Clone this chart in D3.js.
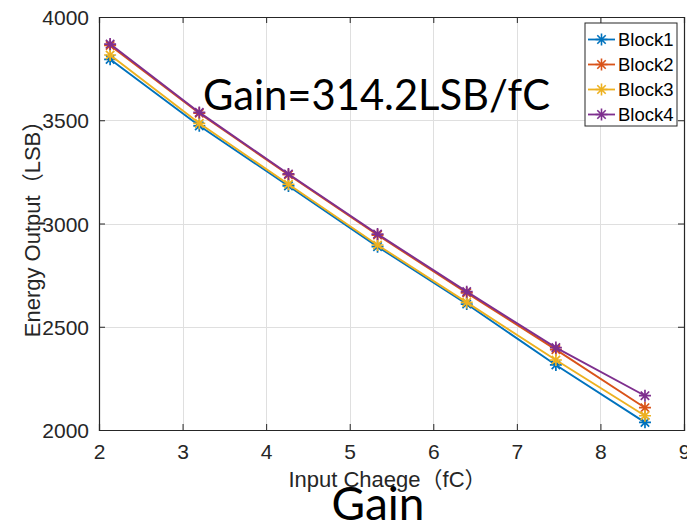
<!DOCTYPE html>
<html>
<head>
<meta charset="utf-8">
<script src="https://cdn.jsdelivr.net/npm/d3@7"></script>
<style>
  html, body { margin: 0; padding: 0; background: #fff; }
  svg { display: block; }
  .axis text { font-family: "Liberation Sans", Arial, sans-serif; font-size: 21px; fill: #262626; }
</style>
</head>
<body>
<svg id="chart" width="687" height="524"></svg>
<script>
// Input charge (fC) for each measurement step
const charge = [2.133, 3.2, 4.267, 5.333, 6.4, 7.467, 8.533];

// Energy output (LSB) per block
const block1 = [3795, 3473, 3182, 2888, 2610, 2315, 2037];
const block2 = [3862, 3534, 3236, 2944, 2664, 2389, 2108];
const block3 = [3816, 3485, 3190, 2896, 2618, 2339, 2069];
const block4 = [3869, 3538, 3240, 2949, 2670, 2399, 2166];

const seriesNames = ["Block1", "Block2", "Block3", "Block4"];
const seriesColors = ["#0072BD", "#D95319", "#EDB120", "#7E2F8E"];

const xTicks = [2, 3, 4, 5, 6, 7, 8, 9];
const yTicks = [2000, 2500, 3000, 3500, 4000];

const xLabel = "Input Chaege（fC）";
const yLabel = "Energy Output（LSB）";
const gainNote = "Gain=314.2LSB/fC";
const caption = "Gain";

const series = [block1, block2, block3, block4].map((vals, i) => ({
  name: seriesNames[i],
  color: seriesColors[i],
  points: vals.map((v, j) => ({ x: charge[j], y: v }))
}));

const svg = d3.select("#chart");
const W = 687, H = 524;
const plot = { left: 99, right: 684, top: 17, bottom: 430 };

svg.append("rect").attr("width", W).attr("height", H).attr("fill", "#fff");

const x = d3.scaleLinear().domain([2, 9]).range([plot.left, plot.right]);
const y = d3.scaleLinear().domain([2000, 4000]).range([plot.bottom, plot.top]);

// grid
const grid = svg.append("g").attr("stroke", "#dfdfdf").attr("stroke-width", 1);
grid.selectAll("line.gx").data(xTicks.slice(1, -1)).join("line")
  .attr("x1", d => Math.round(x(d)) + 0.5).attr("x2", d => Math.round(x(d)) + 0.5)
  .attr("y1", plot.top).attr("y2", plot.bottom);
grid.selectAll("line.gy").data(yTicks.slice(1, -1)).join("line")
  .attr("y1", d => Math.round(y(d)) + 0.5).attr("y2", d => Math.round(y(d)) + 0.5)
  .attr("x1", plot.left).attr("x2", plot.right);

// axes with inward ticks
const tickLen = 6;
const axColor = "#262626";
const gx = svg.append("g").attr("class", "axis")
  .attr("transform", `translate(0,${plot.bottom})`)
  .call(d3.axisBottom(x).tickValues(xTicks).tickFormat(d3.format("d")).tickSize(-tickLen).tickPadding(14));
const gy = svg.append("g").attr("class", "axis")
  .attr("transform", `translate(${plot.left},0)`)
  .call(d3.axisLeft(y).tickValues(yTicks).tickFormat(d3.format("d")).tickSize(-tickLen).tickPadding(10));
const gxTop = svg.append("g").attr("class", "axis")
  .attr("transform", `translate(0,${plot.top})`)
  .call(d3.axisTop(x).tickValues(xTicks).tickFormat("").tickSize(-tickLen));
const gyRight = svg.append("g").attr("class", "axis")
  .attr("transform", `translate(${plot.right},0)`)
  .call(d3.axisRight(y).tickValues(yTicks).tickFormat("").tickSize(-tickLen));
[gx, gy, gxTop, gyRight].forEach(g => {
  g.selectAll("path.domain").attr("stroke", axColor).attr("stroke-width", 1.2);
  g.selectAll(".tick line").attr("stroke", axColor);
});
gy.selectAll(".tick text").attr("dy", "0.36em");

// series lines and asterisk markers
const line = d3.line().x(d => x(d.x)).y(d => y(d.y));
const r = 6;
const asterisk = `M${-r},0H${r}M0,${-r}V${r}M${-r * 0.7},${-r * 0.7}L${r * 0.7},${r * 0.7}M${-r * 0.7},${r * 0.7}L${r * 0.7},${-r * 0.7}`;

series.forEach(s => {
  const g = svg.append("g");
  g.append("path").datum(s.points)
    .attr("d", line).attr("fill", "none")
    .attr("stroke", s.color).attr("stroke-width", 1.9);
  g.selectAll("path.m").data(s.points).join("path")
    .attr("class", "m")
    .attr("transform", d => `translate(${x(d.x)},${y(d.y)})`)
    .attr("d", asterisk).attr("fill", "none")
    .attr("stroke", s.color).attr("stroke-width", 1.7);
});

// legend
const lg = svg.append("g").attr("transform", "translate(585,23)");
lg.append("rect").attr("width", 92).attr("height", 103)
  .attr("fill", "#fff").attr("stroke", "#262626").attr("stroke-width", 1);
series.forEach((s, i) => {
  const cy = 16.5 + i * 25;
  lg.append("line").attr("x1", 3).attr("x2", 30).attr("y1", cy).attr("y2", cy)
    .attr("stroke", s.color).attr("stroke-width", 1.8);
  lg.append("path").attr("transform", `translate(16.5,${cy})`).attr("d", asterisk)
    .attr("fill", "none").attr("stroke", s.color).attr("stroke-width", 1.6);
  lg.append("text").attr("x", 33).attr("y", cy).attr("dy", "0.36em")
    .attr("font-family", "Liberation Sans, Arial, sans-serif").attr("font-size", 18.5)
    .attr("fill", "#000").text(s.name);
});

// axis titles
svg.append("text").attr("x", (plot.left + plot.right) / 2 - 4).attr("y", 487)
  .attr("text-anchor", "middle")
  .attr("font-family", "Liberation Sans, 'Noto Sans CJK SC', sans-serif").attr("font-size", 22)
  .attr("fill", "#262626").text(xLabel);
svg.append("text")
  .attr("transform", `translate(40,${(plot.top + plot.bottom) / 2}) rotate(-90)`)
  .attr("text-anchor", "middle")
  .attr("font-family", "Liberation Sans, 'Noto Sans CJK SC', sans-serif").attr("font-size", 22)
  .attr("fill", "#262626").text(yLabel);

// annotation and caption
svg.append("text").attr("x", 203).attr("y", 110)
  .attr("font-family", "Lato, sans-serif").attr("font-size", 43)
  .attr("textLength", 347).attr("lengthAdjust", "spacingAndGlyphs")
  .attr("fill", "#000").text(gainNote);
svg.append("text").attr("x", 378).attr("y", 520).attr("text-anchor", "middle")
  .attr("font-family", "Lato, sans-serif").attr("font-size", 46)
  .attr("fill", "#000").text(caption);
</script>
</body>
</html>
